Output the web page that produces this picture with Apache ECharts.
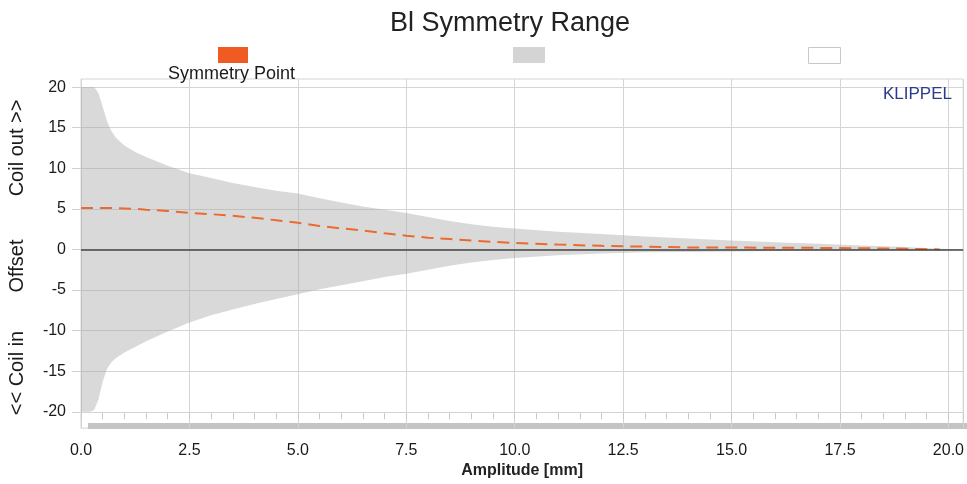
<!DOCTYPE html>
<html>
<head>
<meta charset="utf-8">
<script src="https://cdn.jsdelivr.net/npm/echarts@6/dist/echarts.min.js"></script>
<style>
html,body{margin:0;padding:0;background:#fff;}
#chart{width:967px;height:484px;}
</style>
</head>
<body>
<div id="chart"></div>
<script>
// Amplitude [mm]
var amplitude = [0, 0.1, 0.2, 0.3, 0.4, 0.5, 0.6, 0.7, 0.8, 1.0, 1.25, 1.5, 2.0, 2.5, 3.0, 3.5, 4.0, 4.5, 5.0, 5.5, 6.0, 6.5, 7.0, 7.5, 8.0, 8.5, 9.0, 9.5, 10.0, 11.0, 12.0, 13.0, 14.0, 15.0, 16.0, 17.0, 18.0, 19.0, 19.8, 20.0];
// Upper limit of symmetry range (coil out)
var rangeUpper = [20, 20, 20, 20, 19.3, 17.6, 15.8, 14.6, 13.8, 12.8, 12.0, 11.4, 10.3, 9.4, 8.8, 8.2, 7.7, 7.25, 6.9, 6.3, 5.8, 5.3, 4.9, 4.5, 4.0, 3.5, 3.1, 2.8, 2.6, 2.2, 1.9, 1.6, 1.35, 1.1, 0.9, 0.7, 0.5, 0.3, 0.1, 0.05];
// Lower limit of symmetry range (coil in)
var rangeLower = [-20, -20, -20, -19.8, -18.5, -16.3, -14.7, -13.9, -13.4, -12.7, -12.0, -11.3, -10.1, -9.0, -8.1, -7.4, -6.7, -6.1, -5.5, -4.9, -4.4, -3.9, -3.4, -3.0, -2.5, -2.0, -1.6, -1.3, -1.05, -0.7, -0.5, -0.35, -0.3, -0.25, -0.2, -0.15, -0.1, -0.1, -0.05, 0];
// Symmetry point
var symmetryPoint = [5.1, 5.1, 5.1, 5.1, 5.1, 5.1, 5.1, 5.1, 5.08, 5.05, 5.0, 4.9, 4.75, 4.5, 4.35, 4.15, 3.9, 3.6, 3.3, 2.9, 2.6, 2.35, 2.0, 1.7, 1.45, 1.3, 1.1, 0.95, 0.8, 0.6, 0.45, 0.35, 0.25, 0.25, 0.2, 0.2, 0.15, 0.1, 0.0, null];
// Tick labels
var xTicks = [0, 2.5, 5, 7.5, 10, 12.5, 15, 17.5, 20];
var yTicks = [-20, -15, -10, -5, 0, 5, 10, 15, 20];

function pairs(xs, ys) {
  var out = [];
  for (var i = 0; i < xs.length; i++) { if (ys[i] !== null) out.push([xs[i], ys[i]]); }
  return out;
}

var FONT = '"Liberation Sans", Arial, sans-serif';
var GRAY = '#d4d4d4';
var ORANGE = '#f05a23';
var BAND = 'rgba(170,170,170,0.45)';

var chart = echarts.init(document.getElementById('chart'), null, {renderer: 'canvas'});
chart.setOption({
  animation: false,
  backgroundColor: '#ffffff',
  textStyle: {fontFamily: FONT},
  title: [
    {text: 'Bl Symmetry Range', left: 385, top: 5, textStyle: {fontFamily: FONT, fontSize: 27, fontWeight: 'normal', color: '#222'}},
    {text: 'Symmetry Point', left: 163, top: 60, textStyle: {fontFamily: FONT, fontSize: 18, fontWeight: 'normal', color: '#1a1a1a'}},
    {text: 'KLIPPEL', left: 878, top: 81, textStyle: {fontFamily: FONT, fontSize: 17, fontWeight: 'normal', color: '#2e3b8c'}}
  ],
  legend: [
    {data: [{name: 'Symmetry Point', icon: 'rect', itemStyle: {color: ORANGE, borderWidth: 0}}], left: 213, top: 42, itemWidth: 30, itemHeight: 16, formatter: function(){return '';}, selectedMode: false},
    {data: [{name: 'Symmetry Range', icon: 'rect', itemStyle: {color: GRAY, borderWidth: 0}}], left: 508, top: 42, itemWidth: 32, itemHeight: 16, formatter: function(){return '';}, selectedMode: false},
    {data: [{name: 'Outside', icon: 'rect', itemStyle: {color: '#ffffff', borderColor: '#c8c8c8', borderWidth: 1}}], left: 803, top: 42, itemWidth: 32, itemHeight: 16, formatter: function(){return '';}, selectedMode: false}
  ],
  grid: {left: 81, top: 79, width: 884, height: 350, show: true, borderColor: '#d4d4d4', borderWidth: 1, containLabel: false},
  xAxis: [
    {
      type: 'value', min: 0, max: 20.34, interval: 2.5,
      name: 'Amplitude [mm]', nameLocation: 'middle', nameGap: 33,
      nameTextStyle: {fontFamily: FONT, fontSize: 16, fontWeight: 'bold', color: '#222'},
      axisLine: {show: false},
      axisTick: {show: true, length: 8, lineStyle: {color: '#d0d0d0'}},
      axisLabel: {margin: 14, fontFamily: FONT, fontSize: 16, color: '#1a1a1a', showMaxLabel: false,
        formatter: function(v){ return xTicks.indexOf(v) >= 0 ? v.toFixed(1) : ''; }},
      splitLine: {show: true, lineStyle: {color: '#d4d4d4', width: 1}}
    },
    {
      type: 'value', min: 0, max: 20.34, interval: 0.5, position: 'bottom', offset: -9,
      axisLine: {show: false},
      axisTick: {show: true, inside: true, length: 6, lineStyle: {color: '#c8c8c8'}},
      axisLabel: {show: false},
      splitLine: {show: false}
    }
  ],
  yAxis: {
    type: 'value', min: -22, max: 21,
    axisLine: {show: false},
    axisTick: {show: true, length: 9, customValues: yTicks, lineStyle: {color: '#d0d0d0'}},
    axisLabel: {margin: 15, fontFamily: FONT, fontSize: 16, color: '#1a1a1a', customValues: yTicks},
    splitLine: {show: true, lineStyle: {color: '#d4d4d4', width: 1}}
  },
  graphic: [
    {type: 'rect', left: 88, top: 423, shape: {width: 879, height: 6}, style: {fill: '#c4c4c4'}, silent: true},
    {type: 'text', x: 17, y: 148, rotation: Math.PI / 2, style: {text: 'Coil out >>', fill: '#1a1a1a', font: '20px ' + FONT, align: 'center', verticalAlign: 'middle'}},
    {type: 'text', x: 17, y: 266, rotation: Math.PI / 2, style: {text: 'Offset', fill: '#1a1a1a', font: '20px ' + FONT, align: 'center', verticalAlign: 'middle'}},
    {type: 'text', x: 17, y: 373, rotation: Math.PI / 2, style: {text: '<< Coil in', fill: '#1a1a1a', font: '20px ' + FONT, align: 'center', verticalAlign: 'middle'}}
  ],
  series: [
    {
      name: 'Symmetry Range', type: 'line', data: pairs(amplitude, rangeUpper),
      showSymbol: false, symbol: 'none', lineStyle: {width: 0}, itemStyle: {color: GRAY},
      areaStyle: {color: BAND, opacity: 1, origin: 0}, silent: true, z: 2
    },
    {
      name: 'Symmetry Range', type: 'line', data: pairs(amplitude, rangeLower),
      showSymbol: false, symbol: 'none', lineStyle: {width: 0}, itemStyle: {color: GRAY},
      areaStyle: {color: BAND, opacity: 1, origin: 0}, silent: true, z: 2,
      markLine: {silent: true, symbol: 'none', label: {show: false}, lineStyle: {color: '#444', width: 1.5, type: 'solid'}, data: [{yAxis: 0}]}
    },
    {
      name: 'Symmetry Point', type: 'line', data: pairs(amplitude, symmetryPoint),
      showSymbol: false, symbol: 'none', itemStyle: {color: ORANGE},
      lineStyle: {color: '#ea6a30', width: 2, type: [12, 7]}, z: 4
    },
    {
      name: 'Outside', type: 'line', data: [], itemStyle: {color: '#ffffff'}
    }
  ]
});
</script>
</body>
</html>
